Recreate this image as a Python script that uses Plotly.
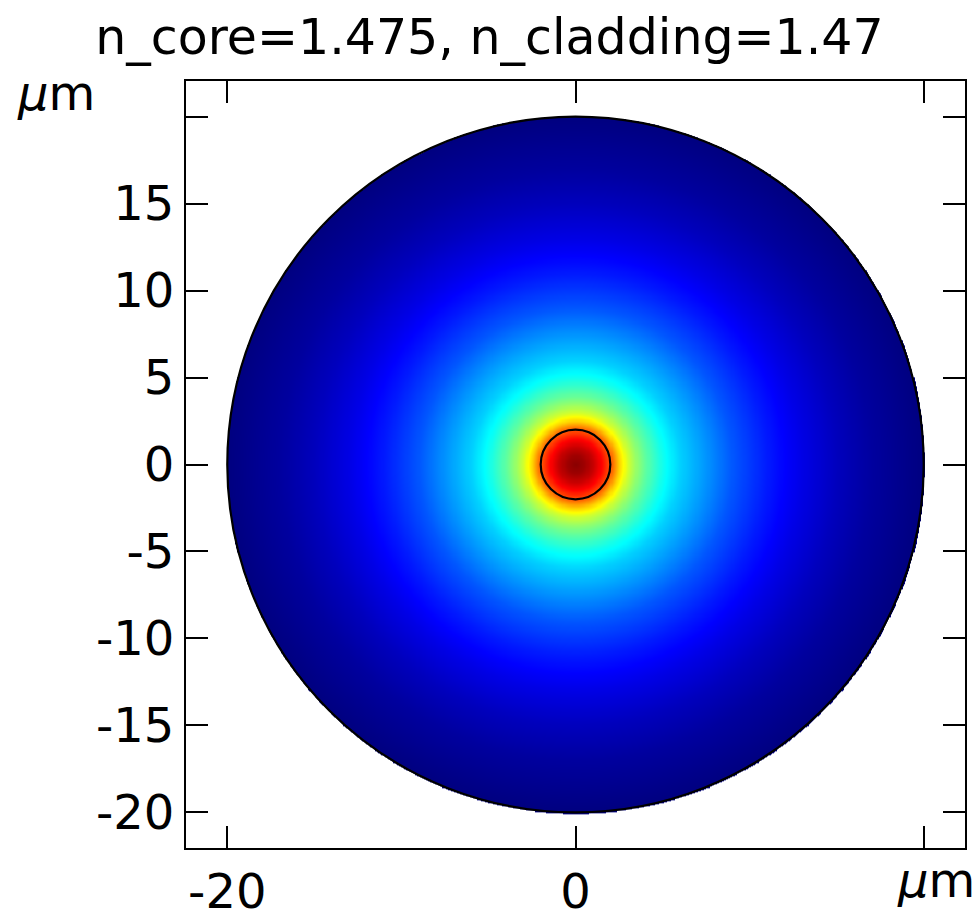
import numpy as np
import plotly.graph_objects as go

# ---- data ----
title_text = "n_core=1.475, n_cladding=1.47"
core_radius = 2.0        # µm
cladding_radius = 20.0   # µm

# radial mode-field profile (normalised)
radius_um = [0.0, 0.5, 1.0, 1.5, 2.0, 2.5, 3.0, 3.5, 4.0, 5.0, 6.0, 7.0, 8.0,
             9.0, 10.0, 11.0, 12.0, 13.0, 14.0, 15.0, 16.0, 17.0, 18.0, 19.0, 20.0]
field_norm = [0.99, 0.97, 0.93, 0.87, 0.79, 0.67, 0.58, 0.52, 0.47, 0.39, 0.33, 0.29, 0.25,
              0.21, 0.18, 0.15, 0.125, 0.10, 0.08, 0.06, 0.045, 0.03, 0.02, 0.01, 0.0]

x_tick_vals = [-20, 0, 20]
x_tick_text = ["-20", "0", ""]
y_tick_vals = [-20, -15, -10, -5, 0, 5, 10, 15, 20]
y_tick_text = ["-20", "-15", "-10", "-5", "0", "5", "10", "15", ""]
unit_label = "<i>\u03bc</i>m"

# ---- build the grid from the radial profile ----
grid = np.linspace(-cladding_radius - 0.1, cladding_radius + 0.1, 643)
XX, YY = np.meshgrid(grid, grid)
RR = np.sqrt(XX**2 + YY**2)
Z = np.interp(RR, radius_um, field_norm).astype(np.float32)
Z[RR > cladding_radius + 0.05] = np.nan

jet = [[0.0, "rgb(0,0,128)"], [0.125, "rgb(0,0,255)"], [0.375, "rgb(0,255,255)"],
       [0.625, "rgb(255,255,0)"], [0.875, "rgb(255,0,0)"], [1.0, "rgb(128,0,0)"]]

fig = go.Figure()
fig.add_trace(go.Heatmap(x=grid, y=grid, z=Z, colorscale=jet, zmin=0, zmax=1,
                         zsmooth="best", showscale=False, hoverinfo="skip"))

for rad in (cladding_radius, core_radius):
    fig.add_shape(type="circle", xref="x", yref="y", x0=-rad, y0=-rad, x1=rad, y1=rad,
                  line=dict(color="black", width=2.2))

font = dict(family="DejaVu Sans", size=48, color="black")

fig.update_layout(
    width=979, height=918,
    margin=dict(l=186, r=14, t=81, b=70, autoexpand=False),
    paper_bgcolor="white", plot_bgcolor="white",
    title=dict(text=title_text, x=0.5, xref="container", xanchor="center",
               y=1 - 37 / 918, yref="container", yanchor="middle",
               font=dict(family="DejaVu Sans", size=49, color="black")),
    font=font,
    showlegend=False,
)

axis_common = dict(showgrid=False, zeroline=False, showline=True, linecolor="black",
                   linewidth=2, mirror="ticks", ticks="inside", ticklen=22,
                   tickwidth=2, tickcolor="black", tickfont=font, automargin=False)
fig.update_xaxes(range=[-22.37, 22.37], tickmode="array", tickvals=x_tick_vals,
                 ticktext=x_tick_text, ticklabelstandoff=0, **axis_common)
fig.update_yaxes(range=[-22.05, 22.05], tickmode="array", tickvals=y_tick_vals,
                 ticktext=y_tick_text, ticklabelstandoff=0, **axis_common)

fig.add_annotation(text=unit_label, xref="paper", yref="paper", x=-0.22, y=1.0,
                   xanchor="left", yanchor="middle", yshift=-12, showarrow=False, font=font)
fig.add_annotation(text=unit_label, xref="paper", yref="paper", x=(977 - 186) / 779, y=0,
                   xanchor="right", yanchor="top", yshift=-2, showarrow=False, font=font)

fig.write_html("out.html", config={"displayModeBar": False},
               post_script="document.body.style.margin='0px';")
